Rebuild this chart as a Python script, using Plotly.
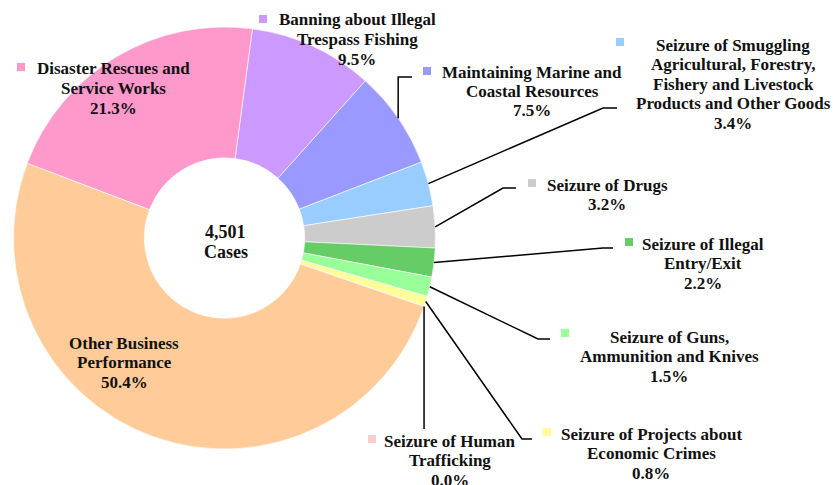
import math
import plotly.graph_objects as go

W, H = 836, 485

# Case categories in drawing order (clockwise from the top)
label_lines = [
    ["Banning about Illegal", "Trespass Fishing"],
    ["Maintaining Marine and", "Coastal Resources"],
    ["Seizure of Smuggling", "Agricultural, Forestry,", "Fishery and Livestock", "Products and Other Goods"],
    ["Seizure of Drugs"],
    ["Seizure of Illegal", "Entry/Exit"],
    ["Seizure of Guns,", "Ammunition and Knives"],
    ["Seizure of Projects about", "Economic Crimes"],
    ["Seizure of Human", "Trafficking"],
    ["Other Business", "Performance"],
    ["Disaster Rescues and", "Service Works"],
]
shares = [9.5, 7.5, 3.4, 3.2, 2.2, 1.5, 0.8, 0.0, 50.4, 21.3]
colors = ["#CC99FF", "#9999FF", "#99CCFF", "#CCCCCC", "#66CC66",
          "#99FF99", "#FFFF99", "#FFCCCC", "#FFCC99", "#FF99CC"]
total_cases = "4,501"
center_word = "Cases"

# Ring geometry (pixels)
CX, CY, R = 224.5, 238.0, 211.0
HOLE = 0.38
ROT = 7.6

# Label placement: text centre x, first-line y, legend square (x, y) or None,
# leader elbow (x or None for a straight drop, y) and leader end x
label_layout = [
    dict(cx=357, y0=20, sq=(263, 19), leader=None),
    dict(cx=532, y0=72, sq=(427, 71), leader=(None, 77, 412)),
    dict(cx=733, y0=45, sq=(620, 42), leader=(603, 108, 617)),
    dict(cx=607, y0=185, sq=(532, 183), leader=(503, 188, 516)),
    dict(cx=703, y0=244, sq=(629, 242), leader=(603, 248, 613)),
    dict(cx=669, y0=337, sq=(565, 333), leader=(538, 339, 550)),
    dict(cx=651, y0=434, sq=(547, 432), leader=(522, 439, 532)),
    dict(cx=450, y0=441, sq=(372, 439), leader=(None, 429, None)),
    dict(cx=124, y0=343, sq=None, leader=None),
    dict(cx=114, y0=69, sq=(21, 67), leader=None),
]
LINE_GAP = 19.5
FONT = "Liberation Serif"


def px(x):
    return x / W


def py(y):
    return 1 - y / H


fig = go.Figure(go.Pie(
    values=shares,
    labels=[" ".join(l) for l in label_lines],
    sort=False,
    direction="clockwise",
    rotation=ROT,
    hole=HOLE,
    marker=dict(colors=colors, line=dict(color="white", width=0.6)),
    textinfo="none",
    hoverinfo="label+percent",
    showlegend=False,
    domain=dict(x=[px(CX - R), px(CX + R)], y=[py(CY + R), py(CY - R)]),
))

annotations = []
shapes = []

# Slice mid-angles (degrees clockwise from 12 o'clock), same scale as the pie
tot = sum(shares)
acc = 0.0
mids = []
for v in shares:
    mids.append(ROT + (acc + v / 2) / tot * 360.0)
    acc += v

for lines, v, col, lay, mid in zip(label_lines, shares, colors, label_layout, mids):
    rows = lines + [f"{v:.1f}%"]
    for i, t in enumerate(rows):
        annotations.append(dict(
            x=px(lay["cx"]), y=py(lay["y0"] + i * LINE_GAP),
            xref="paper", yref="paper", xanchor="center", yanchor="middle",
            text=f"<b>{t}</b>", showarrow=False,
            font=dict(family=FONT, size=17, color="#111111"),
        ))
    if lay["sq"] is not None:
        sx, sy = lay["sq"]
        shapes.append(dict(
            type="rect", xref="paper", yref="paper",
            x0=px(sx - 4), x1=px(sx + 4), y0=py(sy + 4), y1=py(sy - 4),
            fillcolor=col, line=dict(width=0),
        ))
    if lay["leader"] is not None:
        a = math.radians(mid)
        x0 = CX + R * math.sin(a)
        y0 = CY - R * math.cos(a)
        ex, ey, endx = lay["leader"]
        if ex is None:
            ex = x0
        pts = [(x0, y0), (ex, ey)]
        if endx is not None:
            pts.append((endx, ey))
        path = "M " + " L ".join(f"{px(x):.5f},{py(y):.5f}" for x, y in pts)
        shapes.append(dict(
            type="path", xref="paper", yref="paper", path=path,
            line=dict(color="black", width=1.5),
        ))

# Total in the hole
for i, t in enumerate([total_cases, center_word]):
    annotations.append(dict(
        x=px(CX + 1), y=py(232 + i * 20), xref="paper", yref="paper",
        xanchor="center", yanchor="middle", text=f"<b>{t}</b>",
        showarrow=False, font=dict(family=FONT, size=18, color="#111111"),
    ))

fig.update_layout(
    width=W, height=H,
    margin=dict(l=0, r=0, t=0, b=0),
    paper_bgcolor="white", plot_bgcolor="white",
    annotations=annotations, shapes=shapes,
)

fig.write_html("out.html")
